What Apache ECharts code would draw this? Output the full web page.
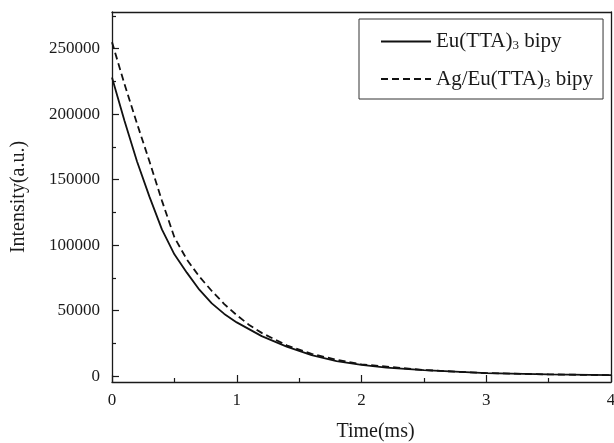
<!DOCTYPE html>
<html>
<head>
    <meta charset="utf-8">
    <script src="https://cdn.jsdelivr.net/npm/echarts@6/dist/echarts.min.js"></script>
    <style>
        body { margin: 0; background: #fff; }
        #main { width: 614px; height: 443px; }
    </style>
</head>
<body>
<div id="main"></div>
<script>
    // time axis (ms) and intensities
    var timeEu = [0, 0.1, 0.2, 0.3, 0.4, 0.5, 0.6, 0.7, 0.8, 0.9, 1.0, 1.2, 1.4, 1.6, 1.8, 2.0, 2.2, 2.5, 3.0, 3.5, 4.0];
    var intensityEu = [228000, 195000, 164000, 137000, 112000, 93000, 79000, 66000, 55500, 47500, 41000, 30500, 22500, 16000, 11500, 8500, 6500, 4500, 2300, 1300, 700];
    var timeAg = [0, 0.1, 0.2, 0.3, 0.4, 0.5, 0.6, 0.7, 0.8, 0.9, 1.0, 1.1, 1.2, 1.4, 1.6, 1.8, 2.0, 2.5, 3.0, 3.5, 4.0];
    var intensityAg = [255000, 223000, 193000, 164000, 134000, 106000, 89000, 76000, 65000, 55000, 46500, 39000, 33000, 23500, 17000, 12500, 9000, 4600, 2300, 1300, 700];

    var yMajor = [0, 50000, 100000, 150000, 200000, 250000];
    var yMinor = [25000, 75000, 125000, 175000, 225000, 275000];

    function pairs(xs, ys) {
        var out = [];
        for (var i = 0; i < xs.length; i++) out.push([xs[i], ys[i]]);
        return out;
    }

    var ink = '#1a1a1a';
    var font = '"Liberation Serif", "Times New Roman", serif';

    var chart = echarts.init(document.getElementById('main'));

    var option = {
        animation: false,
        textStyle: { fontFamily: font, color: ink },
        grid: { left: 112, right: 3, top: 12, bottom: 61, containLabel: false, outerBoundsMode: 'none' },
        legend: {
            orient: 'vertical',
            left: 359,
            top: 19,
            padding: [12, 10, 9, 21],
            itemWidth: 50,
            itemHeight: 14,
            itemGap: 16,
            borderColor: '#333',
            borderWidth: 1,
            itemStyle: { opacity: 0 },
            data: ['Eu', 'Ag'],
            formatter: function (name) {
                if (name === 'Eu') return '{n|Eu(TTA)}{s|3}{n| bipy}';
                return '{n|Ag/Eu(TTA)}{s|3}{n| bipy}';
            },
            textStyle: {
                fontFamily: font,
                color: ink,
                rich: {
                    n: { fontSize: 21, fontFamily: font, color: ink, lineHeight: 22 },
                    s: { fontSize: 13, fontFamily: font, color: ink, lineHeight: 12, verticalAlign: 'bottom' }
                }
            }
        },
        xAxis: [{
            type: 'value',
            min: 0,
            max: 4,
            interval: 1,
            name: 'Time(ms)',
            nameLocation: 'middle',
            nameGap: 40,
            nameTextStyle: { fontSize: 20, fontFamily: font, color: ink, padding: [0, 0, 0, 28] },
            axisLine: { onZero: false, lineStyle: { color: ink, width: 1.3 } },
            axisTick: { inside: true, length: 7, lineStyle: { color: ink, width: 1.2 } },
            minorTick: { show: true, splitNumber: 2, length: 4, lineStyle: { color: ink, width: 1.2 } },
            axisLabel: { fontSize: 17, margin: 10, color: ink, fontFamily: font },
            splitLine: { show: false }
        }, {
            type: 'value',
            position: 'top',
            min: 0,
            max: 4,
            axisLine: { show: true, onZero: false, lineStyle: { color: ink, width: 1.3 } },
            axisTick: { show: false },
            axisLabel: { show: false },
            splitLine: { show: false }
        }],
        yAxis: [{
            type: 'value',
            position: 'left',
            min: -4500,
            max: 278000,
            name: 'Intensity(a.u.)',
            nameLocation: 'middle',
            nameGap: 83,
            nameTextStyle: { fontSize: 20, fontFamily: font, color: ink },
            axisLine: { show: true, onZero: false, lineStyle: { color: ink, width: 1.3 } },
            axisTick: { show: true, inside: true, length: 7, customValues: yMajor, lineStyle: { color: ink, width: 1.2 } },
            axisLabel: {
                fontSize: 17, margin: 12, color: ink, fontFamily: font, customValues: yMajor,
                formatter: function (v) { return String(v); }
            },
            splitLine: { show: false }
        }, {
            type: 'value',
            position: 'left',
            min: -4500,
            max: 278000,
            axisLine: { show: false, onZero: false },
            axisTick: { show: true, inside: true, length: 4, customValues: yMinor, lineStyle: { color: ink, width: 1.2 } },
            axisLabel: { show: false },
            splitLine: { show: false }
        }, {
            type: 'value',
            position: 'right',
            min: -4500,
            max: 278000,
            axisLine: { show: true, onZero: false, lineStyle: { color: ink, width: 1.3 } },
            axisTick: { show: false },
            axisLabel: { show: false },
            splitLine: { show: false }
        }],
        series: [{
            name: 'Eu',
            type: 'line',
            data: pairs(timeEu, intensityEu),
            symbol: 'none',
            lineStyle: { color: '#111', width: 1.8, type: 'solid' },
            itemStyle: { color: '#111' }
        }, {
            name: 'Ag',
            type: 'line',
            data: pairs(timeAg, intensityAg),
            symbol: 'none',
            lineStyle: { color: '#111', width: 1.8, type: [7, 4] },
            itemStyle: { color: '#111' }
        }]
    };

    chart.setOption(option);
</script>
</body>
</html>
